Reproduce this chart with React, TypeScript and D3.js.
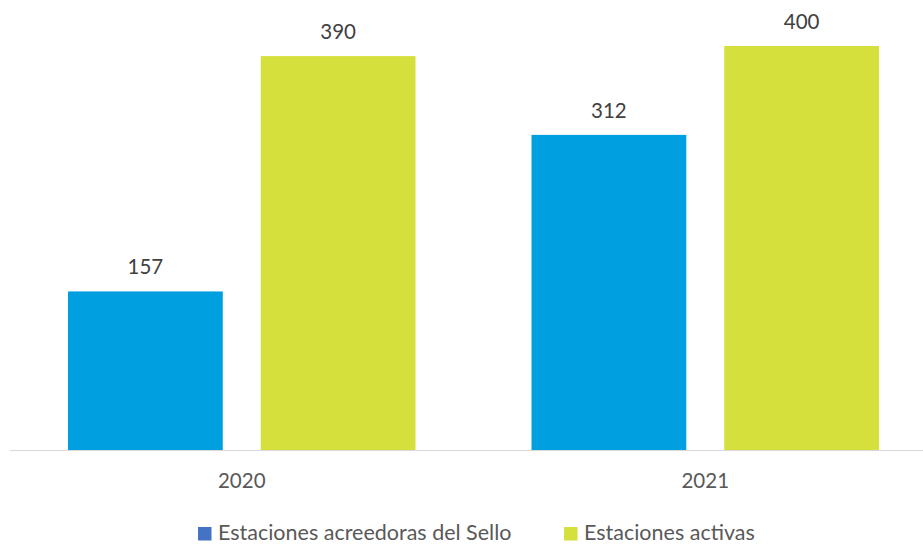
import React from "react";
import * as d3 from "d3";

const categories = ["2020", "2021"];
const seriesNames = ["Estaciones acreedoras del Sello", "Estaciones activas"];
const acreedoras = [157, 312];
const activas = [390, 400];

const W = 923;
const H = 544;
const FONT = "Lato, 'Open Sans', sans-serif";

export default function App() {
  const baseY = 450;
  const x0 = d3.scaleBand<string>().domain(categories).range([10, 937]).paddingInner(0).paddingOuter(0);
  const inner = d3.scaleBand<number>().domain([0, 1]).range([58, 463.5 - 58]).paddingInner(38 / 193);
  const y = d3.scaleLinear().domain([0, 400]).range([baseY, 46]);
  const colors = ["#009FDF", "#D6E03D"];
  const legendColors = ["#4472C4", "#D6E03D"];
  const series = [acreedoras, activas];
  const legendX = [198, 564];

  return (
    <svg width={W} height={H} style={{ display: "block", position: "absolute", left: 0, top: 0 }} fontFamily={FONT}>
      <rect width={W} height={H} fill="#fff" />
      {categories.map((c, ci) => (
        <g key={c}>
          {series.map((s, si) => {
            const bx = (x0(c) ?? 0) + (inner(si) ?? 0);
            const bw = inner.bandwidth();
            return (
              <g key={si}>
                <rect x={bx} y={y(s[ci])} width={bw} height={baseY - y(s[ci])} fill={colors[si]} />
                <text x={bx + bw / 2} y={y(s[ci]) - 17} textAnchor="middle" fontSize={20.5} fill="#404040">
                  {s[ci]}
                </text>
              </g>
            );
          })}
          <text x={(x0(c) ?? 0) + x0.bandwidth() / 2} y={488} textAnchor="middle" fontSize={20.5} fill="#595959">
            {c}
          </text>
        </g>
      ))}
      <line x1={10} x2={W} y1={baseY + 0.5} y2={baseY + 0.5} stroke="#D9D9D9" strokeWidth={1} />
      <g>
        {seriesNames.map((n, i) => {
          const lx = legendX[i];
          return (
            <g key={n}>
              <rect x={lx} y={527} width={13.5} height={13.5} fill={legendColors[i]} />
              <text x={lx + 20} y={540} fontSize={21.5} fill="#595959">
                {n}
              </text>
            </g>
          );
        })}
      </g>
    </svg>
  );
}
